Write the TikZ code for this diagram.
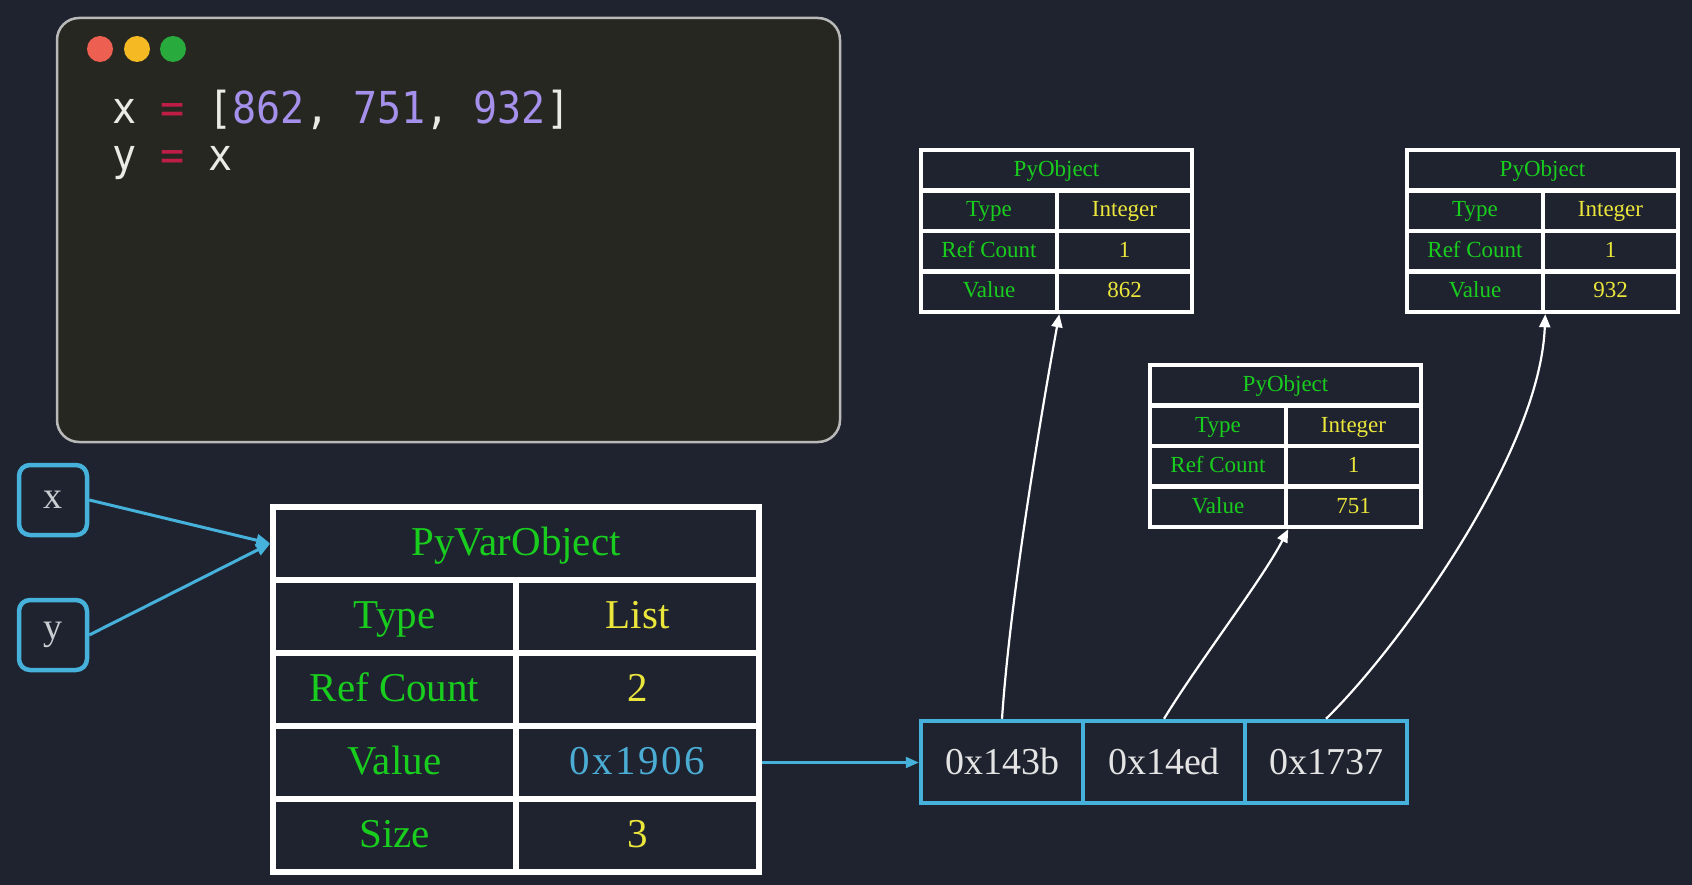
\documentclass[tikz,border=0pt]{standalone}
\usepackage{fontspec}
\setmainfont{Liberation Serif}
\newfontfamily\codefont[FakeStretch=0.91]{DejaVu Sans Mono}
\usetikzlibrary{arrows.meta}
\definecolor{bg}{RGB}{31,35,47}
\definecolor{winbg}{RGB}{39,39,34}
\definecolor{winborder}{RGB}{185,185,185}
\definecolor{tlred}{RGB}{237,95,80}
\definecolor{tlyel}{RGB}{245,185,35}
\definecolor{tlgrn}{RGB}{40,170,60}
\definecolor{codewhite}{RGB}{235,235,230}
\definecolor{codeeq}{RGB}{190,30,70}
\definecolor{codenum}{RGB}{165,145,235}
\definecolor{grn}{RGB}{25,205,30}
\definecolor{ylw}{RGB}{235,230,60}
\definecolor{cyn}{RGB}{70,178,220}
\definecolor{addrtxt}{RGB}{228,228,228}
\definecolor{vartxt}{RGB}{200,205,210}
\definecolor{hexcyan}{RGB}{75,172,212}
\tikzset{
  bigcell/.style={draw=white, line width=5.5pt, inner sep=0pt, text height=27pt, text depth=4pt, font=\fontsize{41}{48}\selectfont},
  smallcell/.style={draw=white, line width=4.5pt, inner sep=0pt, text height=15.5pt, text depth=3pt, font=\fontsize{23}{27}\selectfont},
  addrcell/.style={draw=cyn, line width=4.5pt, minimum width=162pt, minimum height=82pt, inner sep=0pt, text height=25pt, text depth=0pt, text=addrtxt, font=\fontsize{38}{44}\selectfont},
  varbox/.style={draw=cyn, line width=4.5pt, rounded corners=11pt, minimum width=68pt, minimum height=70pt, inner sep=0pt, text=vartxt, font=\fontsize{38}{44}\selectfont},
  wlink/.style={draw=white, line width=2.2pt, -{Triangle[length=13pt,width=11pt]}},
  clink/.style={draw=cyn, line width=3pt, -{Triangle[length=14pt,width=12pt]}},
  hlink/.style={draw=cyn, line width=2.2pt, -{Triangle[length=13pt,width=11pt]}}
}
\newcommand\PyObjTable[4]{%
  \begin{scope}[shift={(#2,#3)}]
    \node[smallcell, minimum width=271pt, minimum height=40.5pt, text=grn] (#1h) at (135.5,20.25) {PyObject};
    \node[smallcell, minimum width=136pt, minimum height=40.5pt, text=grn] (#1tk) at (68,60.75) {Type};
    \node[smallcell, minimum width=135pt, minimum height=40.5pt, text=ylw] (#1tv) at (203.5,60.75) {Integer};
    \node[smallcell, minimum width=136pt, minimum height=40.5pt, text=grn] (#1rk) at (68,101.25) {Ref Count};
    \node[smallcell, minimum width=135pt, minimum height=40.5pt, text=ylw] (#1rv) at (203.5,101.25) {1};
    \node[smallcell, minimum width=136pt, minimum height=40.5pt, text=grn] (#1vk) at (68,141.75) {Value};
    \node[smallcell, minimum width=135pt, minimum height=40.5pt, text=ylw] (#1vv) at (203.5,141.75) {#4};
  \end{scope}}
\begin{document}
\begin{tikzpicture}[x=1pt,y=-1pt]
\fill[bg] (0,0) rectangle (1692,885);
\useasboundingbox (0,0) rectangle (1692,885);

% code window
\draw[rounded corners=22pt, line width=2.5pt, draw=winborder, fill=winbg] (57,18) rectangle (840,442);
\fill[tlred] (100,49) circle (13pt);
\fill[tlyel] (137,49) circle (13pt);
\fill[tlgrn] (173,49) circle (13pt);
\node[anchor=base west, inner sep=0pt, font=\codefont\fontsize{44}{47}\selectfont, text=codewhite] (code1) at (112,124)
  {x \textcolor{codeeq}{=} [\textcolor{codenum}{862}, \textcolor{codenum}{751}, \textcolor{codenum}{932}]};
\node[anchor=base west, inner sep=0pt, font=\codefont\fontsize{44}{47}\selectfont, text=codewhite] (code2) at (112,171)
  {y \textcolor{codeeq}{=} x};

% variables
\node[varbox] (vx) at (53,500) {x};
\node[varbox] (vy) at (53,635) {y};

% PyVarObject table
\node[bigcell, minimum width=486pt, minimum height=73pt, text=grn] (pvh) at (516,543.5) {PyVarObject};
\node[bigcell, minimum width=243pt, minimum height=73pt, text=grn] (pvtk) at (394.5,616.5) {Type};
\node[bigcell, minimum width=243pt, minimum height=73pt, text=ylw] (pvtv) at (637.5,616.5) {List};
\node[bigcell, minimum width=243pt, minimum height=73pt, text=grn] (pvrk) at (394.5,689.5) {Ref Count};
\node[bigcell, minimum width=243pt, minimum height=73pt, text=ylw] (pvrv) at (637.5,689.5) {2};
\node[bigcell, minimum width=243pt, minimum height=73pt, text=grn] (pvvk) at (394.5,762.5) {Value};
\node[bigcell, minimum width=243pt, minimum height=73pt, text=hexcyan] (pvvv) at (637.5,762.5) {\addfontfeatures{LetterSpace=6}0x1906};
\node[bigcell, minimum width=243pt, minimum height=73pt, text=grn] (pvsk) at (394.5,835.5) {Size};
\node[bigcell, minimum width=243pt, minimum height=73pt, text=ylw] (pvsv) at (637.5,835.5) {3};

% address array
\node[addrcell] (a1) at (1002,762) {0x143b};
\node[addrcell] (a2) at (1164,762) {0x14ed};
\node[addrcell] (a3) at (1326,762) {0x1737};

% PyObject tables
\PyObjTable{ta}{921}{150}{862}
\PyObjTable{tb}{1150}{365}{751}
\PyObjTable{tc}{1407}{150}{932}

% connectors
\draw[clink] (vx.east) -- (pvh.west);
\draw[clink] (vy.east) -- (pvh.west);
\draw[hlink] (pvvv.east) -- (pvvv.east -| a1.west);
\draw[wlink] (a1.north) .. controls (1010,600) and (1040,420) .. (tavk.south east);
\draw[wlink] (a2.north) .. controls (1200,660) and (1262,580) .. (tbvk.south east);
\draw[wlink] (a3.north) .. controls (1395,652) and (1540,455) .. (tcvk.south east);
\end{tikzpicture}
\end{document}
